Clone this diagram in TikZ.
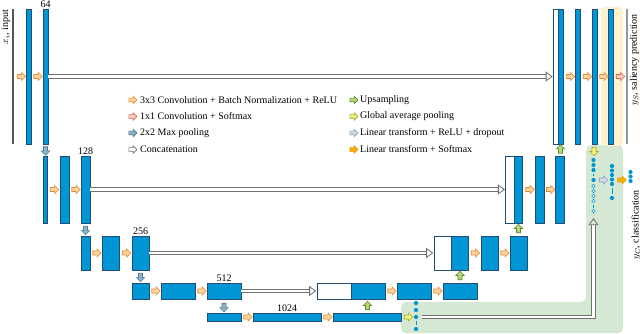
\documentclass[tikz,border=0pt]{standalone}
\usepackage{fontspec}
\setmainfont{Liberation Serif}
\usetikzlibrary{shapes.arrows, arrows.meta}

\definecolor{barblue}{RGB}{0,150,214}
\definecolor{barline}{RGB}{31,78,121}
\definecolor{inputgray}{RGB}{85,85,85}
\definecolor{outgray}{RGB}{140,154,166}
\definecolor{convfill}{RGB}{252,213,165}
\definecolor{convline}{RGB}{229,137,43}
\definecolor{softfill}{RGB}{251,208,196}
\definecolor{softline}{RGB}{224,99,74}
\definecolor{poolfill}{RGB}{141,180,198}
\definecolor{poolline}{RGB}{75,125,147}
\definecolor{catline}{RGB}{112,112,112}
\definecolor{upfill}{RGB}{181,215,124}
\definecolor{upline}{RGB}{91,140,43}
\definecolor{gapfill}{RGB}{239,242,123}
\definecolor{gapline}{RGB}{169,168,39}
\definecolor{linfill}{RGB}{207,219,230}
\definecolor{linline}{RGB}{138,163,186}
\definecolor{lsmfill}{RGB}{247,181,0}
\definecolor{lsmline}{RGB}{232,147,12}
\definecolor{greenbg}{RGB}{213,232,212}
\definecolor{yellowbg}{RGB}{255,242,204}

\begin{document}
\begin{tikzpicture}[x=1pt, y=-1pt, font=\fontsize{10}{12}\selectfont,
  bar/.style={draw=barline, fill=barblue, line width=0.6pt, inner sep=0pt},
  catbar/.style={draw=barline, fill=white, line width=0.6pt, inner sep=0pt},
  inp/.style={fill=inputgray, inner sep=0pt, minimum width=2.5pt, minimum height=135pt},
  blk/.style={single arrow, single arrow head extend=2.2pt, inner sep=1.7pt, minimum height=8.5pt, line width=0.6pt},
  leg/.style={single arrow head extend=2pt, inner sep=1.5pt, minimum height=8pt},
  conv/.style={blk, draw=convline, fill=convfill},
  soft/.style={blk, draw=softline, fill=softfill},
  pool/.style={blk, draw=poolline, fill=poolfill, shape border rotate=270},
  cat/.style={blk, draw=catline, fill=white},
  ups/.style={blk, draw=upline, fill=upfill, shape border rotate=90},
  gap/.style={blk, draw=gapline, fill=gapfill},
  lin/.style={blk, draw=linline, fill=linfill},
  lsm/.style={blk, draw=lsmline, fill=lsmfill},
  unit/.style={circle, fill=barblue, inner sep=0pt, minimum size=4.2pt},
  off/.style={circle, draw=barblue, fill=white, line width=0.6pt, inner sep=0pt, minimum size=3.6pt},
  gapdash/.style={draw=barblue, line width=0.6pt, shorten <=1.4pt, shorten >=1.4pt},
  skip/.style={draw=catline, line width=0.8pt, double=white, double distance=2.6pt, -{Triangle[open, length=7pt, width=10pt, line width=0.8pt]}, shorten >=0.5pt},
  num/.style={anchor=south, inner sep=1pt}]

\useasboundingbox (0,0) rectangle (640,334);

\fill[greenbg, rounded corners=5pt] (401,302) -- (586,302) -- (586,145) -- (623,145) -- (623,333) -- (401,333) -- cycle;
\fill[yellowbg, rounded corners=4pt] (601,7) rectangle (623,146);

\node[inp] (xin) at (13,76.5) {};
\node[bar, minimum width=5pt, minimum height=135pt] (e11) at (28.5,76.5) {};
\node[bar, minimum width=5pt, minimum height=135pt] (e12) at (45.5,76.5) {};
\node[catbar, minimum width=5pt, minimum height=135pt] (k1w) at (556,76.5) {};
\node[bar, minimum width=5pt, minimum height=135pt] (k1b) at (561,76.5) {};
\node[bar, minimum width=5pt, minimum height=135pt] (d11) at (578,76.5) {};
\node[bar, minimum width=5pt, minimum height=135pt] (d12) at (594.5,76.5) {};
\node[bar, minimum width=5pt, minimum height=135pt] (d13) at (611,76.5) {};
\node[inp, fill=outgray] (ys) at (627,76.5) {};

\node[conv] (r11) at (20.5,76.5) {};
\node[conv] (r12) at (37,76.5) {};
\node[conv] (r13) at (569.5,76.5) {};
\node[conv] (r14) at (586.5,76.5) {};
\node[conv] (r15) at (603,76.5) {};
\node[soft] (s1) at (619.5,76.5) {};

\node[bar, minimum width=4pt, minimum height=67pt] (e21) at (45,189.5) {};
\node[bar, minimum width=9pt, minimum height=67pt] (e22) at (64.5,189.5) {};
\node[bar, minimum width=9pt, minimum height=67pt] (e23) at (85.5,189.5) {};
\node[catbar, minimum width=8.5pt, minimum height=67pt] (k2w) at (510,189.5) {};
\node[bar, minimum width=8.5pt, minimum height=67pt] (k2b) at (518.5,189.5) {};
\node[bar, minimum width=9pt, minimum height=67pt] (d21) at (539.5,189.5) {};
\node[bar, minimum width=9pt, minimum height=67pt] (d22) at (560,189.5) {};

\node[conv] (r21) at (53.5,189.5) {};
\node[conv] (r22) at (75,189.5) {};
\node[conv] (r23) at (529,189.5) {};
\node[conv] (r24) at (549.75,189.5) {};

\node[bar, minimum width=9pt, minimum height=34pt] (e31) at (85.5,253) {};
\node[bar, minimum width=17pt, minimum height=34pt] (e32) at (110.5,253) {};
\node[bar, minimum width=17pt, minimum height=34pt] (e33) at (140.5,253) {};
\node[catbar, minimum width=17pt, minimum height=34pt] (k3w) at (442.5,253) {};
\node[bar, minimum width=17pt, minimum height=34pt] (k3b) at (459.5,253) {};
\node[bar, minimum width=17pt, minimum height=34pt] (d31) at (489.5,253) {};
\node[bar, minimum width=17pt, minimum height=34pt] (d32) at (518.5,253) {};

\node[conv] (r31) at (96,253) {};
\node[conv] (r32) at (125.5,253) {};
\node[conv] (r33) at (474.5,253) {};
\node[conv] (r34) at (504,253) {};

\node[bar, minimum width=17pt, minimum height=16pt] (e41) at (140.5,291) {};
\node[bar, minimum width=34pt, minimum height=16pt] (e42) at (178,291) {};
\node[bar, minimum width=34pt, minimum height=16pt] (e43) at (224,291) {};
\node[catbar, minimum width=34pt, minimum height=16pt] (k4w) at (334,291) {};
\node[bar, minimum width=34pt, minimum height=16pt] (k4b) at (368,291) {};
\node[bar, minimum width=34pt, minimum height=16pt] (d41) at (414,291) {};
\node[bar, minimum width=34pt, minimum height=16pt] (d42) at (460,291) {};

\node[conv] (r41) at (155,291) {};
\node[conv] (r42) at (201,291) {};
\node[conv] (r43) at (391,291) {};
\node[conv] (r44) at (437,291) {};

\node[bar, minimum width=34pt, minimum height=8pt] (m1) at (224,317) {};
\node[bar, minimum width=68pt, minimum height=8pt] (m2) at (287,317) {};
\node[bar, minimum width=68pt, minimum height=8pt] (m3) at (367,317) {};

\node[conv] (r51) at (247,317) {};
\node[conv] (r52) at (327,317) {};

\node[pool] (p1) at (45.5,150) {};
\node[pool] (p2) at (85.5,229.5) {};
\node[pool] (p3) at (140.5,276.5) {};
\node[pool] (p4) at (224,306.5) {};
\node[ups] (u1) at (560.5,150) {};
\node[ups] (u2) at (518.5,229.5) {};
\node[ups] (u3) at (460,276.5) {};
\node[ups] (u4) at (367.5,306.5) {};

\node[num] (n64) at (e12.north) {64};
\node[num] (n128) at (e23.north) {128};
\node[num] (n256) at (e33.north) {256};
\node[num] (n512) at (e43.north) {512};
\node[num] (n1024) at (m2.north) {1024};

\draw[skip] (e12.east) -- (k1w.west);
\draw[skip] (e23.east) -- (k2w.west);
\draw[skip] (e33.east) -- (k3w.west);
\draw[skip] (e43.east) -- (k4w.west);

\node[gap] (g1) at (407.5,317) {};
\node[unit] (q1) at (416,303) {};
\node[unit] (q2) at (416,310) {};
\node[unit] (q3) at (416,317) {};
\node[unit] (q4) at (416,329) {};
\draw[gapdash] (q3) -- (q4);

\node[gap, shape border rotate=270] (g2) at (594,150.5) {};
\node[unit] (h1) at (593.5,160) {};
\node[unit] (h2) at (593.5,165) {};
\node[unit] (h3) at (593.5,170) {};
\node[unit] (h4) at (593.5,180) {};
\node[off] (h5) at (593.5,186) {};
\node[off] (h6) at (593.5,191) {};
\node[off] (h7) at (593.5,196) {};
\node[off] (h8) at (593.5,201) {};
\node[off] (h9) at (593.5,211) {};
\draw[gapdash] (h3) -- (h4);
\draw[gapdash] (h8) -- (h9);

\draw[skip, shorten <=3.5pt, shorten >=5pt] (q3.east) -| (h9.south);

\node[lin] (l1) at (602.5,180) {};
\node[unit] (f1) at (612,166) {};
\node[unit] (f2) at (612,170.5) {};
\node[unit] (f3) at (612,175) {};
\node[unit] (f4) at (612,179.5) {};
\node[unit] (f5) at (612,184) {};
\node[unit] (f6) at (612,198) {};
\draw[gapdash] (f5) -- (f6);

\node[lsm] (l2) at (621,180) {};
\node[unit] (c1) at (630.5,172) {};
\node[unit] (c2) at (630.5,176.5) {};
\node[unit] (c3) at (630.5,181) {};

\node[rotate=90] (lxin) at (6,27) {$x_i$, input};
\node[rotate=90] (lys) at (634.5,60) {$y_S$, saliency prediction};
\node[rotate=90] (lyc) at (636,225) {$y_C$, classification};

\node[conv, leg] (k1) at (132,100) {};
\node[soft, leg] (k2) at (132,116.5) {};
\node[pool, leg, shape border rotate=0] (k3) at (132,133) {};
\node[cat, leg] (k4) at (132,149.5) {};
\node[anchor=west, inner sep=0pt] (t1) at (140,100) {3x3 Convolution + Batch Normalization + ReLU};
\node[anchor=west, inner sep=0pt] (t2) at (140,116.5) {1x1 Convolution + Softmax};
\node[anchor=west, inner sep=0pt] (t3) at (140,133) {2x2 Max pooling};
\node[anchor=west, inner sep=0pt] (t4) at (140,149.5) {Concatenation};

\node[ups, leg, shape border rotate=0] (k5) at (353,100) {};
\node[gap, leg] (k6) at (353,116.5) {};
\node[lin, leg] (k7) at (353,133) {};
\node[lsm, leg] (k8) at (353,149.5) {};
\node[anchor=west, inner sep=0pt] (t5) at (360,100) {Upsampling};
\node[anchor=west, inner sep=0pt] (t6) at (360,116.5) {Global average pooling};
\node[anchor=west, inner sep=0pt] (t7) at (360,133) {Linear transform + ReLU + dropout};
\node[anchor=west, inner sep=0pt] (t8) at (360,149.5) {Linear transform + Softmax};
\end{tikzpicture}
\end{document}
